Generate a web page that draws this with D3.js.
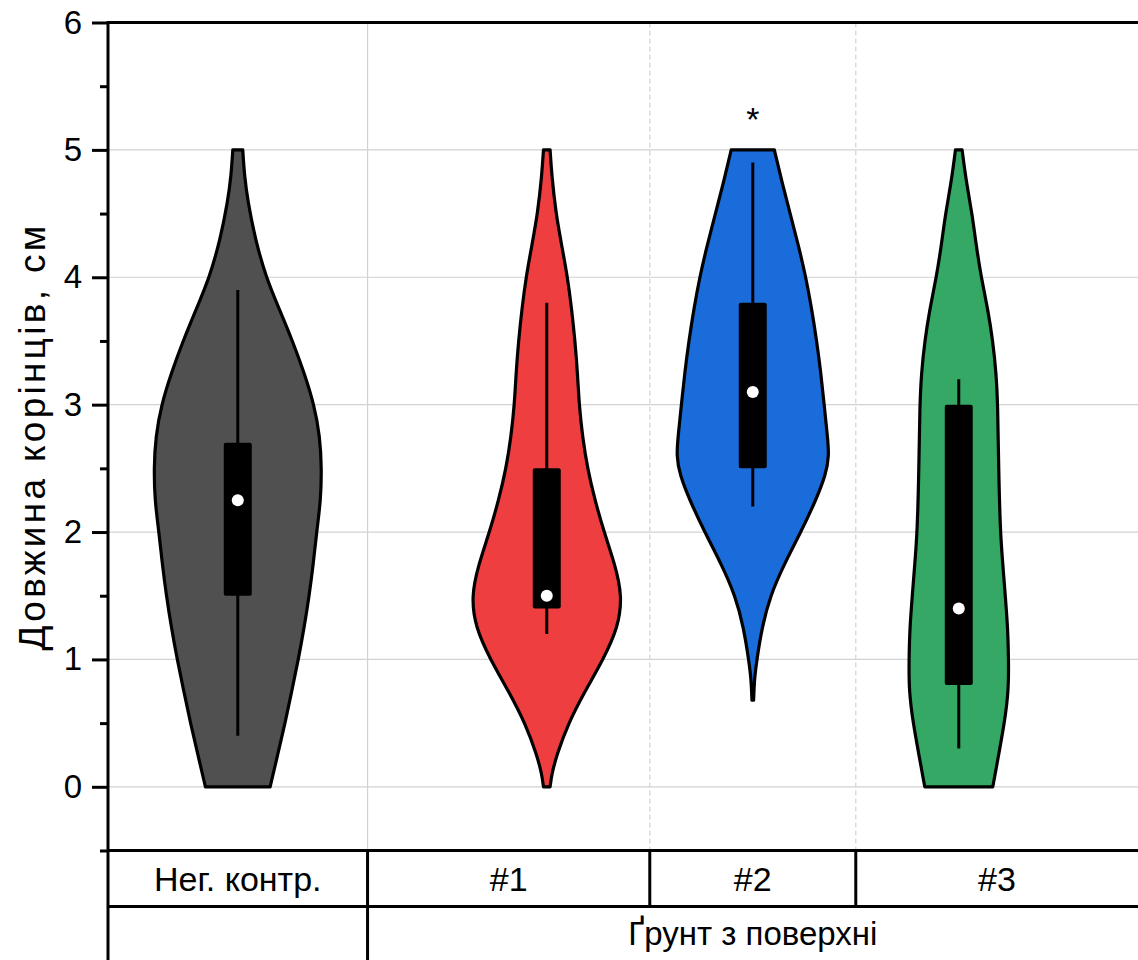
<!DOCTYPE html>
<html>
<head>
<meta charset="utf-8">
<script src="https://cdn.jsdelivr.net/npm/d3@7"></script>
<style>
    body { margin: 0; background: #fff; }
    svg { display: block; font-family: "Liberation Sans", Arial, sans-serif; }
</style>
</head>
<body>
<div id="chart"></div>
<script>
// Categories and their positions on the x axis
let groups = ["Нег. контр.", "#1", "#2", "#3"];
let groupPos = [1, 2.5, 3.5, 4.5];
let groupColors = ["#505050", "#EF3E40", "#1A6CDA", "#36A866"];

// Row labels of the bottom table (second row spans the three soil samples)
let cellEdges = [0.37, 1.63, 3.0, 4.0, 5.37];
let row2Labels = [{ label: "", from: 0, to: 1 }, { label: "Ґрунт з поверхні", from: 1, to: 4 }];

// Violin outlines: [root length, relative density]
let densityNeg = [[5.0, 0.06], [4.8, 0.08], [4.6, 0.12], [4.3, 0.21], [4.0, 0.34], [3.75, 0.5], [3.5, 0.66],
    [3.25, 0.8], [3.0, 0.92], [2.75, 0.99], [2.5, 1.01], [2.25, 1.0], [2.0, 0.95], [1.75, 0.91], [1.5, 0.86],
    [1.25, 0.8], [1.0, 0.73], [0.75, 0.65], [0.5, 0.57], [0.25, 0.48], [0.0, 0.39]];
let density1 = [[5.0, 0.04], [4.8, 0.06], [4.5, 0.11], [4.25, 0.18], [4.0, 0.25], [3.75, 0.3], [3.5, 0.34],
    [3.25, 0.37], [3.0, 0.39], [2.75, 0.43], [2.5, 0.49], [2.25, 0.58], [2.0, 0.69], [1.75, 0.82], [1.5, 0.91],
    [1.25, 0.86], [1.0, 0.68], [0.75, 0.46], [0.5, 0.26], [0.25, 0.12], [0.1, 0.06], [0.0, 0.04]];
let density2 = [[5.0, 0.26], [4.75, 0.35], [4.5, 0.45], [4.25, 0.55], [4.0, 0.64], [3.75, 0.71], [3.5, 0.77],
    [3.25, 0.82], [3.0, 0.86], [2.75, 0.9], [2.6, 0.92], [2.45, 0.88], [2.25, 0.76], [2.0, 0.58], [1.75, 0.38],
    [1.5, 0.21], [1.25, 0.11], [1.0, 0.05], [0.85, 0.02], [0.68, 0.01]];
let density3 = [[5.0, 0.04], [4.75, 0.09], [4.5, 0.16], [4.25, 0.21], [4.0, 0.27], [3.75, 0.35], [3.5, 0.41],
    [3.25, 0.45], [3.0, 0.47], [2.5, 0.48], [2.0, 0.5], [1.75, 0.53], [1.5, 0.56], [1.25, 0.59], [1.0, 0.6],
    [0.75, 0.6], [0.5, 0.55], [0.25, 0.48], [0.0, 0.41]];
let densities = [densityNeg, density1, density2, density3];

// Box statistics
let whiskerLow = [0.4, 1.2, 2.2, 0.3];
let whiskerHigh = [3.9, 3.8, 4.9, 3.2];
let q1 = [1.5, 1.4, 2.5, 0.8];
let q3 = [2.7, 2.5, 3.8, 3.0];
let medians = [2.25, 1.5, 3.1, 1.4];

// Significance mark
let marks = [{ group: 2, value: 5.15, text: "*" }];

let yTicks = [0, 1, 2, 3, 4, 5, 6];
let yMinorTicks = [-0.5, 0.5, 1.5, 2.5, 3.5, 4.5, 5.5];
let yTitle = "Довжина корінців, см";

let width = 1138, height = 960;

let svg = d3.select("#chart").append("svg")
    .attr("width", width)
    .attr("height", height);

// Scales
let x = d3.scaleLinear().domain([0.37, 5.37]).range([108, 1138]);
let y = d3.scaleLinear().domain([-0.5, 6]).range([850.5, 22.5]);
let w = d3.scaleLinear().domain([0, 1]).range([0, 83]);

let rowH = 56;
let tableTop = y(-0.5);

// Grid lines
svg.append("g")
    .selectAll("line")
    .data([0, 1, 2, 3, 4, 5])
    .join("line")
    .attr("x1", x.range()[0]).attr("x2", x.range()[1])
    .attr("y1", d => y(d)).attr("y2", d => y(d))
    .attr("stroke", "#d2d2d2")
    .attr("stroke-width", 1.2);

svg.append("g")
    .selectAll("line")
    .data(cellEdges.slice(1, 4))
    .join("line")
    .attr("x1", d => x(d)).attr("x2", d => x(d))
    .attr("y1", y(6)).attr("y2", tableTop)
    .attr("stroke", "#d2d2d2")
    .attr("stroke-width", 1.2)
    .attr("stroke-dasharray", (d, i) => i === 0 ? null : "5,3");

// Violins
let violins = svg.append("g");
densities.forEach(function (dens, i) {
    let cx = x(groupPos[i]);
    let area = d3.area()
        .y(d => y(d[0]))
        .x0(d => cx - w(d[1]))
        .x1(d => cx + w(d[1]))
        .curve(d3.curveBasis);

    violins.append("path")
        .datum(dens)
        .attr("d", area)
        .attr("fill", groupColors[i])
        .attr("stroke", "#000")
        .attr("stroke-width", 3.2)
        .attr("stroke-linejoin", "round");
});

// Whiskers, boxes, medians
let boxes = svg.append("g");
groups.forEach(function (g, i) {
    let cx = x(groupPos[i]);
    boxes.append("line")
        .attr("x1", cx).attr("x2", cx)
        .attr("y1", y(whiskerLow[i])).attr("y2", y(whiskerHigh[i]))
        .attr("stroke", "#000")
        .attr("stroke-width", 3);
    boxes.append("rect")
        .attr("x", cx - 14)
        .attr("width", 28)
        .attr("y", y(q3[i]))
        .attr("height", y(q1[i]) - y(q3[i]))
        .attr("rx", 2)
        .attr("fill", "#000");
    boxes.append("circle")
        .attr("cx", cx)
        .attr("cy", y(medians[i]))
        .attr("r", 6)
        .attr("fill", "#fff");
});

// Significance
svg.append("g")
    .selectAll("text")
    .data(marks)
    .join("text")
    .attr("x", d => x(groupPos[d.group]))
    .attr("y", d => y(d.value))
    .attr("text-anchor", "middle")
    .style("font-size", "34px")
    .text(d => d.text);

// Y axis
let yAxis = d3.axisLeft(y)
    .tickValues(yTicks)
    .tickFormat(d3.format("d"))
    .tickSize(16)
    .tickPadding(10);

let yAxisG = svg.append("g")
    .attr("transform", "translate(" + x.range()[0] + ",0)")
    .call(yAxis);
yAxisG.select(".domain").remove();
yAxisG.selectAll(".tick line").attr("stroke", "#000").attr("stroke-width", 3);
yAxisG.selectAll(".tick text")
    .style("font-size", "33px")
    .attr("fill", "#000")
    .attr("font-family", "Liberation Sans, Arial, sans-serif");

let yMinor = svg.append("g")
    .attr("transform", "translate(" + x.range()[0] + ",0)")
    .call(d3.axisLeft(y).tickValues(yMinorTicks).tickSize(8).tickFormat(""));
yMinor.select(".domain").remove();
yMinor.selectAll(".tick line").attr("stroke", "#000").attr("stroke-width", 3);

// Axis line and top frame
svg.append("line")
    .attr("x1", x.range()[0]).attr("x2", x.range()[0])
    .attr("y1", y(6) - 1.5).attr("y2", height)
    .attr("stroke", "#000").attr("stroke-width", 3);
svg.append("line")
    .attr("x1", x.range()[0]).attr("x2", x.range()[1])
    .attr("y1", y(6)).attr("y2", y(6))
    .attr("stroke", "#000").attr("stroke-width", 3);

// Y axis title
svg.append("text")
    .attr("transform", "translate(45," + ((y(6) + tableTop) / 2) + ") rotate(-90)")
    .attr("text-anchor", "middle")
    .style("font-size", "37px")
    .style("letter-spacing", "3.3px")
    .text(yTitle);

// Bottom table
let table = svg.append("g");
[tableTop, tableTop + rowH].forEach(function (ly) {
    table.append("line")
        .attr("x1", x.range()[0]).attr("x2", x.range()[1])
        .attr("y1", ly).attr("y2", ly)
        .attr("stroke", "#000").attr("stroke-width", 3);
});
cellEdges.slice(1, 4).forEach(function (e, i) {
    table.append("line")
        .attr("x1", x(e)).attr("x2", x(e))
        .attr("y1", tableTop)
        .attr("y2", i === 0 ? height : tableTop + rowH)
        .attr("stroke", "#000").attr("stroke-width", 3);
});

table.selectAll(".row1")
    .data(groups)
    .join("text")
    .attr("class", "row1")
    .attr("x", (d, i) => (x(cellEdges[i]) + x(cellEdges[i + 1])) / 2)
    .attr("y", tableTop + 40)
    .attr("text-anchor", "middle")
    .style("font-size", "34px")
    .text(d => d);

table.selectAll(".row2")
    .data(row2Labels)
    .join("text")
    .attr("class", "row2")
    .attr("x", d => (x(cellEdges[d.from]) + x(cellEdges[d.to])) / 2)
    .attr("y", tableTop + rowH + 38)
    .attr("text-anchor", "middle")
    .style("font-size", "33px")
    .text(d => d.label);
</script>
</body>
</html>
